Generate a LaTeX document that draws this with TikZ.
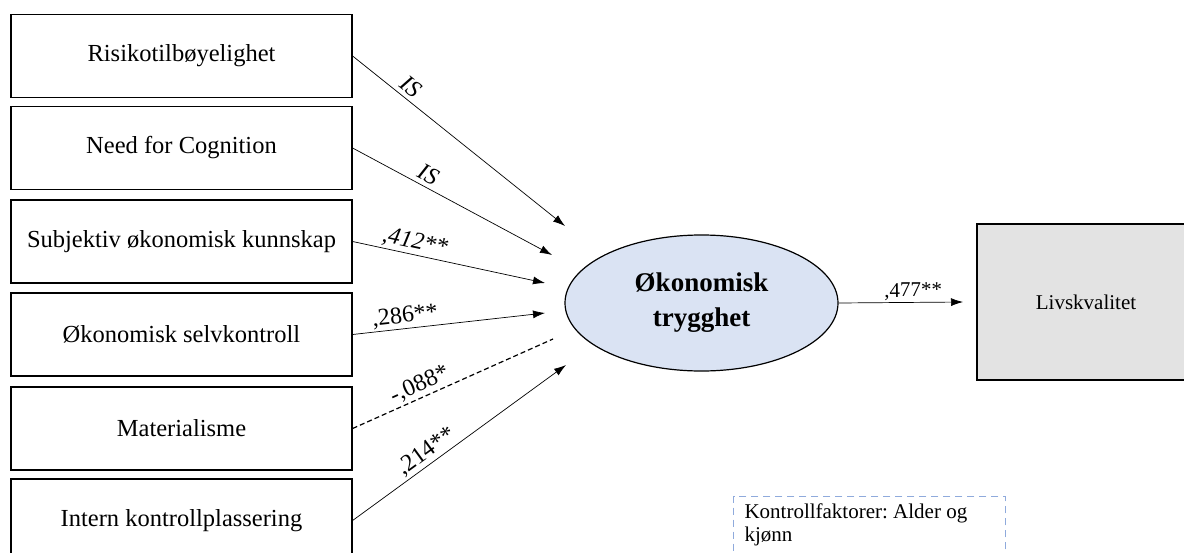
\documentclass[tikz,border=0pt]{standalone}
\usepackage{fontspec}
\setmainfont{Liberation Serif}
\usepackage{tikz}
\usetikzlibrary{arrows.meta,shapes}
\definecolor{ellblue}{HTML}{DAE3F3}
\definecolor{boxgray}{HTML}{E3E3E3}
\definecolor{ctrlblue}{HTML}{8FAADC}
\frenchspacing

\begin{document}
\begin{tikzpicture}[>={Latex[length=12bp,width=8bp]},
  factor/.style={draw,line width=1.2bp,minimum width=341bp,minimum height=83bp,inner sep=0pt,font=\fontsize{24.5bp}{28bp}\selectfont},
  effect/.style={->,line width=0.7bp},
  coef/.style={sloped,above,inner sep=2bp,font=\fontsize{24bp}{28bp}\selectfont}]
\useasboundingbox (0bp,0bp) rectangle (1184bp,-553bp);
% predictors
\node (Risk) at (181.5bp,-56bp)[factor] {Risikotilbøyelighet};
\node (NFC) at (181.5bp,-148bp)[factor] {Need for Cognition};
\node (Subj) at (181.5bp,-241.5bp)[factor] {Subjektiv økonomisk kunnskap};
\node (Self) at (181.5bp,-334.5bp)[factor] {Økonomisk selvkontroll};
\node (Mat) at (181.5bp,-428.5bp)[factor] {Materialisme};
\node (Locus) at (181.5bp,-520.5bp)[factor] {Intern kontrollplassering};
% mediator and outcome
\node (Trygg) at (701.5bp,-303bp)[draw,ellipse,line width=1.2bp,fill=ellblue,minimum width=273bp,minimum height=136bp,inner sep=0pt,align=center,font=\fontsize{27bp}{35bp}\selectfont\bfseries] {Økonomisk\\trygghet};
\node (Livs) at (1086bp,-302bp)[draw,line width=1.2bp,fill=boxgray,minimum width=218bp,minimum height=156bp,inner sep=0pt,font=\fontsize{21bp}{25bp}\selectfont] {Livskvalitet};
\node (Ctrl) at (733bp,-496bp)[anchor=north west,draw=ctrlblue,dashed,dash pattern=on 7bp off 5bp,line width=1bp,minimum width=272bp,inner xsep=11bp,inner ysep=7bp,text depth=40bp,align=flush left,text width=250bp,font=\fontsize{21bp}{23bp}\selectfont] {Kontrollfaktorer: Alder og\\kjønn};
% arrow ends
\coordinate (inRisk) at (565bp,-226bp);
\coordinate (inNFC) at (552bp,-255bp);
\coordinate (inSubj) at (545bp,-283bp);
\coordinate (inSelf) at (545bp,-313bp);
\coordinate (inMat) at (553bp,-339bp);
\coordinate (inLocus) at (566bp,-365bp);
\coordinate (inLivs) at (963bp,-302bp);
% paths
\draw [effect] (Risk.east) to node[coef,pos=0.24,inner sep=4bp] {\itshape IS} (inRisk);
\draw [effect] (NFC.east) to node[coef,pos=0.35,inner sep=4bp] {\itshape IS} (inNFC);
\draw [effect] (Subj.east) to node[coef,pos=0.31] {\itshape ,412**} (inSubj);
\draw [effect] (Self.east) to node[coef,pos=0.28] {,286**} (inSelf);
\draw [line width=1.2bp,dashed,dash pattern=on 5bp off 3bp] (Mat.east) to node[coef,pos=0.36] {-,088*} (inMat);
\draw [effect] (Locus.east) to node[coef,pos=0.38] {,214**} (inLocus);
\draw [effect] (Trygg.east) to node[coef,pos=0.6,font=\fontsize{21bp}{25bp}\selectfont] {,477**} (inLivs);
\end{tikzpicture}
\end{document}
